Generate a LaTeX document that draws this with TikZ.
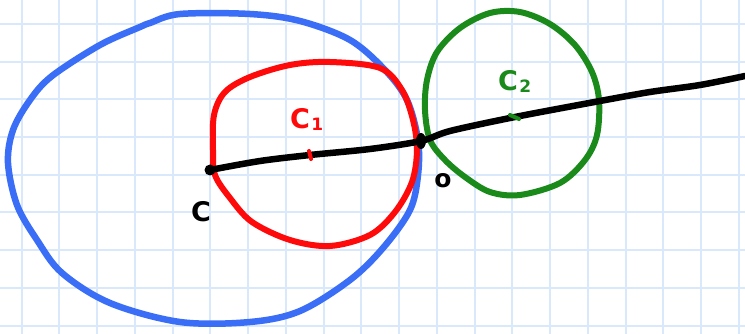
\documentclass[tikz,border=0pt]{standalone}
\usepackage{fontspec}
\setmainfont{DejaVu Sans}
\definecolor{gridblue}{HTML}{D9E9FB}
\definecolor{penblue}{HTML}{3B6EF7}
\definecolor{penred}{HTML}{FF0A0A}
\definecolor{pengreen}{HTML}{1A8A1A}
\begin{document}
\begin{tikzpicture}[x=1pt,y=-1pt,
  gridline/.style={gridblue,line width=2pt},
  pen/.style={line width=#1,line cap=round,line join=round},
  pen/.default=6pt,
  lbl/.style={font=\bfseries\fontsize{27}{27}\selectfont,inner sep=0pt},
  sub/.style={font=\bfseries\fontsize{17}{17}\selectfont,inner sep=0pt}]
\useasboundingbox (0,0) rectangle (745,334);
\fill[white] (0,0) rectangle (745,334);
% grid
\foreach \k in {0,...,19} {\draw[gridline] ({21.7+37.75*\k},0) -- ({21.7+37.75*\k},334);}
\foreach \k in {0,...,8} {\draw[gridline] (0,{24+37.7*\k}) -- (745,{24+37.7*\k});}
% blue circle
\draw[penblue,pen=6.5pt] plot[smooth cycle,tension=0.55] coordinates {
 (8,163) (13,130) (30,100) (52,76) (100,45) (140,27) (150,23) (180,14) (250,14) (300,21)
 (350,40) (385,70) (407,100) (418,140) (418,175) (410,210) (383,248) (350,280) (300,311)
 (250,322) (180,322) (110,303) (62,273) (37,240) (17,205)};
% red circle
\draw[penred,pen=6pt] plot[smooth cycle,tension=0.55] coordinates {
 (213,150) (214,115) (225,92) (250,77) (290,65) (330,62) (380,68) (402,90) (413,120)
 (417,150) (412,182) (395,212) (370,235) (330,246) (290,240) (252,222) (230,198) (215,175)};
% green circle
\draw[pengreen,pen=6pt] plot[smooth cycle,tension=0.55] coordinates {
 (425,110) (427,80) (437,52) (460,28) (490,13) (520,12) (550,24) (575,45) (592,72)
 (599,100) (597,135) (585,160) (560,183) (520,195) (490,192) (465,177) (445,160) (430,140)};
% points
\coordinate (cpt) at (210,170);
\coordinate (c1pt) at (310,155);
\coordinate (opt) at (421,141);
\coordinate (c2pt) at (515,117);
\coordinate (lineend) at (745,76);
\draw[black,pen=6.5pt] plot[smooth,tension=0.5] coordinates {
 (cpt) (260,161) (c1pt) (370,149) (opt) (450,131) (c2pt) (600,101) (650,92) (700,85) (lineend)};
\fill[black] (cpt) circle (5.5pt);
\fill[black] (opt) ellipse (5pt and 8pt);
\draw[penred,pen=4pt] (309,151) -- (311,159);
\draw[pengreen,pen=4pt] (510,115) -- (519,119);
% labels
\node[lbl] (lc) at (201,212) {C};
\node[lbl,font=\bfseries\fontsize{25}{25}\selectfont] (lo) at (443,181) {o};
\node[lbl,penred] (lc1) at (300,119) {C};
\node[sub,penred,anchor=west] (lc1s) at (lc1.east) [xshift=1pt,yshift=-5pt] {1};
\node[lbl,pengreen] (lc2) at (508,81) {C};
\node[sub,pengreen,anchor=west] (lc2s) at (lc2.east) [xshift=1pt,yshift=-5pt] {2};
\end{tikzpicture}
\end{document}
